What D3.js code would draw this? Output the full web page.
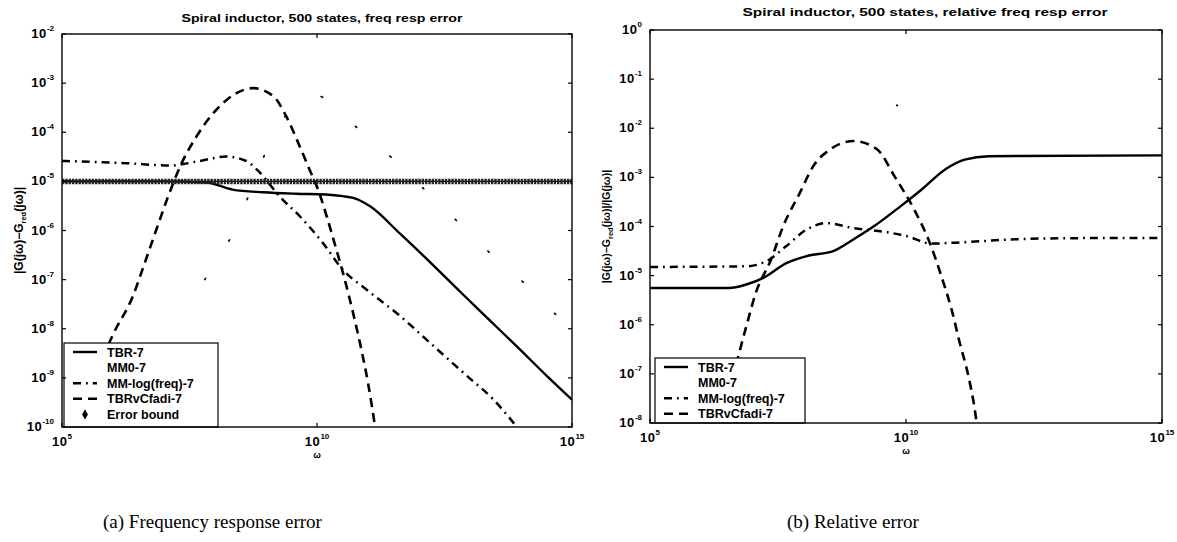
<!DOCTYPE html>
<html><head><meta charset="utf-8">
<script src="https://cdn.jsdelivr.net/npm/d3@7"></script>
<style>
body{margin:0;background:#fff}
svg{display:block}
text{font-family:"Liberation Sans",Arial,sans-serif;fill:#000}
</style>
</head><body>
<svg id="c" width="1177" height="542"></svg>
<script>
// ---------- DATA ----------
const xTicks = [1e5, 1e10, 1e15];
const yTicksA = [1e-2, 1e-3, 1e-4, 1e-5, 1e-6, 1e-7, 1e-8, 1e-9, 1e-10];
const yTicksB = [1e0, 1e-1, 1e-2, 1e-3, 1e-4, 1e-5, 1e-6, 1e-7, 1e-8];

// Panel (a): absolute error |G(jw)-Gred(jw)|
const a_TBR_w   = [1e5, 1e7, 6.8e7, 2.2e8, 8.7e8, 4.0e9, 1.5e10, 3.2e10, 5.1e10, 1.1e11, 4.3e11, 1.7e12, 6.5e12, 2.5e13, 9.5e13, 3.2e14, 1e15];
const a_TBR     = [1.0e-5, 1.0e-5, 9.5e-6, 6.8e-6, 6.0e-6, 5.6e-6, 5.4e-6, 5.0e-6, 4.6e-6, 3.1e-6, 8.5e-7, 2.2e-7, 5.6e-8, 1.45e-8, 3.8e-9, 1.1e-9, 3.6e-10];

const a_MM0_w   = [6.3e7, 2.45e8, 1e9, 3.2e9, 8.7e9, 3.8e10, 7.4e10, 4.9e11, 1.5e12, 1.8e13, 3.1e13, 1.05e14, 3.2e14, 1e15];
const a_MM0     = [1e-7, 1.05e-6, 4e-5, 3.2e-4, 5.8e-4, 1.95e-4, 1.02e-4, 1.86e-5, 5.8e-6, 4.8e-7, 2.75e-7, 9.3e-8, 2.9e-8, 1e-8];

const a_MMlog_w = [1e5, 1.8e6, 1.3e7, 5e7, 1.66e8, 4.1e8, 7.6e8, 1.86e9, 4.6e9, 1.3e10, 3.2e10, 9.3e10, 4.3e11, 1.9e12, 8.7e12, 2.9e13, 8.3e13];
const a_MMlog   = [2.6e-5, 2.35e-5, 2.1e-5, 2.6e-5, 3.2e-5, 2.6e-5, 1.5e-5, 4.9e-6, 1.95e-6, 5.6e-7, 1.6e-7, 6.3e-8, 1.8e-8, 4.5e-9, 1.1e-9, 3.6e-10, 1e-10];

const a_Cfadi_w = [1.6e5, 4e5, 1e6, 2.45e6, 4.2e6, 7.1e6, 1.2e7, 2.2e7, 4.3e7, 1.07e8, 2.6e8, 5.6e8, 1.4e9, 2.5e9, 4.6e9, 7.2e9, 1.05e10, 1.55e10, 2.2e10, 3.5e10, 5.1e10, 7.4e10, 1e11, 1.38e11];
const a_Cfadi   = [1e-10, 8e-10, 7.6e-9, 4.6e-8, 2.2e-7, 1.05e-6, 4.9e-6, 2.3e-5, 8.1e-5, 2.9e-4, 6.2e-4, 7.9e-4, 5.4e-4, 2.1e-4, 5.1e-5, 1.7e-5, 6.8e-6, 1.95e-6, 5.6e-7, 1e-7, 2.1e-8, 3.8e-9, 7.9e-10, 1e-10];

const a_Bound_w = [1e5, 1e15];
const a_Bound   = [1e-5, 1e-5];

// Panel (b): relative error |G-Gred|/|G|
const b_TBR_w   = [1e5, 3.5e6, 7.6e6, 1.6e7, 4.6e7, 1.15e8, 3.9e8, 9.5e8, 2.4e9, 7.9e9, 2e10, 5.8e10, 1.4e11, 4.1e11, 1e15];
const b_TBR     = [5.6e-6, 5.6e-6, 6.6e-6, 8.9e-6, 1.8e-5, 2.5e-5, 3.2e-5, 5.5e-5, 1.02e-4, 2.6e-4, 5.6e-4, 1.45e-3, 2.3e-3, 2.7e-3, 2.8e-3];

const b_MM0_w   = [6.6e9, 6.8e9];
const b_MM0     = [2.95e-2, 2.9e-2];

const b_MMlog_w = [1e5, 7.6e6, 1.86e7, 4.6e7, 1.15e8, 2.8e8, 9.5e8, 4.4e9, 1.07e10, 3.1e10, 1.4e11, 1.4e12, 2.8e13, 1e15];
const b_MMlog   = [1.5e-5, 1.55e-5, 1.95e-5, 4e-5, 8.7e-5, 1.17e-4, 9.3e-5, 7.6e-5, 6.3e-5, 4.5e-5, 4.8e-5, 5.5e-5, 5.8e-5, 5.8e-5];

const b_Cfadi_w = [2.5e6, 5.1e6, 7.6e6, 1.17e7, 2.3e7, 4e7, 8.5e7, 1.55e8, 3.3e8, 9.5e8, 2.75e9, 5.9e9, 1.45e10, 2.9e10, 4.9e10, 7.8e10, 1.12e11, 1.66e11, 2.2e11, 2.4e11];
const b_Cfadi   = [1e-8, 1.95e-7, 9.3e-7, 4.5e-6, 2.1e-5, 1.02e-4, 4.9e-4, 1.7e-3, 3.7e-3, 5.5e-3, 3.7e-3, 1.07e-3, 2.2e-4, 4.7e-5, 9.8e-6, 2e-6, 4.3e-7, 8.9e-8, 1.9e-8, 1e-8];

const legendA = ["TBR-7", "MM0-7", "MM-log(freq)-7", "TBRvCfadi-7", "Error bound"];
const legendB = ["TBR-7", "MM0-7", "MM-log(freq)-7", "TBRvCfadi-7"];

// ---------- STYLES ----------
const styles = {
  solid:   {w: 2.4, dash: null},
  dotted:  {w: 1.7, dash: "1.5 44"},
  dashdot: {w: 2.5, dash: "8 5 1.8 5"},
  dashed:  {w: 2.6, dash: "9 6"}
};

const svg = d3.select("#c");

function pts(w, v){ return w.map((d,i)=>[d, v[i]]); }

function powText(g, x, y, v, anchor){
  const e = Math.round(Math.log10(v));
  const t = g.append("text").attr("x", x).attr("y", y).attr("text-anchor", anchor)
    .style("font-size","13px").style("font-weight","bold").style("letter-spacing","0.6px");
  t.append("tspan").text("10");
  t.append("tspan").attr("dy", -7).style("font-size","8px").style("letter-spacing","0").text(e);
}

function panel(cfg){
  const g = svg.append("g");
  const x = d3.scaleLog().domain([1e5,1e15]).range([cfg.l, cfg.r]);
  const y = d3.scaleLog().domain(cfg.yd).range([cfg.b, cfg.t]);
  const id = "clip"+cfg.key;
  svg.append("clipPath").attr("id", id).append("rect")
    .attr("x", cfg.l).attr("y", cfg.t).attr("width", cfg.r-cfg.l).attr("height", cfg.b-cfg.t);
  const cg = g.append("g").attr("clip-path", `url(#${id})`);
  const line = d3.line().x(d=>x(d[0])).y(d=>y(d[1])).curve(d3.curveMonotoneX);

  cfg.series.forEach(s=>{
    const st = styles[s.style];
    cg.append("path").attr("d", line(pts(s.w, s.v))).attr("fill","none")
      .attr("stroke","#000").attr("stroke-width", st.w)
      .attr("stroke-dasharray", st.dash).attr("stroke-linecap", s.style==="dotted"?"round":"butt");
  });
  if (cfg.bound){
    const p = line(pts(cfg.bound.w, cfg.bound.v));
    cg.append("path").attr("d", p).attr("fill","none").attr("stroke","#000").attr("stroke-width",1.4);
    cg.append("path").attr("d", p).attr("fill","none").attr("stroke","#222").attr("stroke-width",5.5)
      .attr("stroke-dasharray","2.4 0.9");
  }

  // legend
  const L = cfg.legend;
  g.append("rect").attr("x", L.x).attr("y", L.y).attr("width", L.w).attr("height", L.h)
    .attr("fill","#fff").attr("stroke","#000").attr("stroke-width",1.2);
  L.items.forEach((name,i)=>{
    const cy = L.y + 9 + i*15.6;
    const st = L.styles[i];
    if (st === "marker"){
      g.append("path").attr("d", d3.symbol(d3.symbolDiamond, 30)())
        .attr("transform", `translate(${L.x+21},${cy})`).attr("fill","#000");
    } else if (st !== "dotted"){
      g.append("line").attr("x1", L.x+9).attr("x2", L.x+33).attr("y1", cy).attr("y2", cy)
        .attr("stroke","#000").attr("stroke-width", styles[st].w).attr("stroke-dasharray", styles[st].dash);
    }
    g.append("text").attr("x", L.x+43).attr("y", cy+4.5).style("font-size","12.5px")
      .style("font-weight","bold").text(name);
  });

  // frame
  g.append("rect").attr("x", cfg.l).attr("y", cfg.t).attr("width", cfg.r-cfg.l).attr("height", cfg.b-cfg.t)
    .attr("fill","none").attr("stroke","#000").attr("stroke-width",1.4);
  const tl = 4;
  cfg.yt.forEach(v=>{
    const yy = y(v);
    g.append("line").attr("x1",cfg.l).attr("x2",cfg.l+tl).attr("y1",yy).attr("y2",yy).attr("stroke","#000").attr("stroke-width",1.2);
    g.append("line").attr("x1",cfg.r).attr("x2",cfg.r-tl).attr("y1",yy).attr("y2",yy).attr("stroke","#000").attr("stroke-width",1.2);
    powText(g, cfg.l-8, yy+4, v, "end");
  });
  xTicks.forEach(v=>{
    const xx = x(v);
    g.append("line").attr("x1",xx).attr("x2",xx).attr("y1",cfg.b).attr("y2",cfg.b-tl).attr("stroke","#000").attr("stroke-width",1.2);
    g.append("line").attr("x1",xx).attr("x2",xx).attr("y1",cfg.t).attr("y2",cfg.t+tl).attr("stroke","#000").attr("stroke-width",1.2);
    powText(g, xx, cfg.b+19, v, "middle");
  });

  // title
  g.append("text").attr("x", cfg.title.x).attr("y", cfg.title.y).attr("text-anchor","middle")
    .style("font-size","11.5px").style("font-weight","bold")
    .attr("textLength", cfg.title.len).attr("lengthAdjust","spacingAndGlyphs").text(cfg.title.text);
  // x label
  g.append("text").attr("x", (cfg.l+cfg.r)/2).attr("y", cfg.b+31).attr("text-anchor","middle")
    .style("font-size","9px").style("font-weight","bold").text("ω");
  // y label
  const yl = g.append("text").attr("transform", `translate(${cfg.ylx},${(cfg.t+cfg.b)/2}) rotate(-90)`)
    .attr("text-anchor","middle").style("font-size", cfg.ylfs).style("font-weight","bold");
  yl.append("tspan").text("|G(jω)−G");
  yl.append("tspan").attr("dy",3).style("font-size","7.5px").text("red");
  yl.append("tspan").attr("dy",-3).text("(jω)|" + (cfg.relative ? "/|G(jω)|" : ""));
}

panel({
  key:"A", l:62, r:572, t:34, b:427, yd:[1e-10,1e-2], yt:yTicksA,
  series:[
    {w:a_MM0_w, v:a_MM0, style:"dotted"},
    {w:a_MMlog_w, v:a_MMlog, style:"dashdot"},
    {w:a_Cfadi_w, v:a_Cfadi, style:"dashed"},
    {w:a_TBR_w, v:a_TBR, style:"solid"}
  ],
  bound:{w:a_Bound_w, v:a_Bound},
  legend:{x:64, y:343, w:154, h:84, items:legendA, styles:["solid","dotted","dashdot","dashed","marker"]},
  title:{x:322, y:22, len:281, text:"Spiral inductor, 500 states, freq resp error"},
  ylx:23, ylfs:"12px", relative:false
});

panel({
  key:"B", l:650, r:1162, t:30, b:423, yd:[1e-8,1e0], yt:yTicksB,
  series:[
    {w:b_MM0_w, v:b_MM0, style:"dotted"},
    {w:b_MMlog_w, v:b_MMlog, style:"dashdot"},
    {w:b_Cfadi_w, v:b_Cfadi, style:"dashed"},
    {w:b_TBR_w, v:b_TBR, style:"solid"}
  ],
  bound:null,
  legend:{x:655, y:358, w:150, h:65, items:legendB, styles:["solid","dotted","dashdot","dashed"]},
  title:{x:925, y:16, len:365, text:"Spiral inductor, 500 states, relative freq resp error"},
  ylx:610, ylfs:"10.5px", relative:true
});

// captions
svg.append("text").attr("x",103).attr("y",528)
  .style("font-family",'"Liberation Serif","DejaVu Serif",serif').style("font-size","19px")
  .text("(a) Frequency response error");
svg.append("text").attr("x",787).attr("y",528)
  .style("font-family",'"Liberation Serif","DejaVu Serif",serif').style("font-size","19px")
  .text("(b) Relative error");
</script>
</body></html>
